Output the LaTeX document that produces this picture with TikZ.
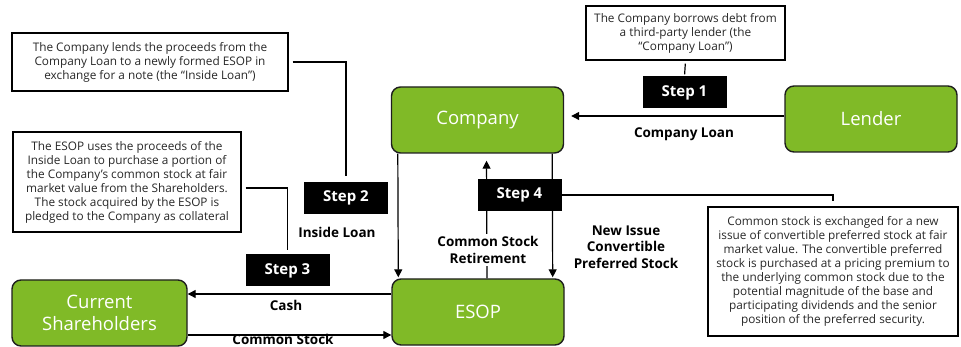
\documentclass[tikz,border=0pt]{standalone}
\usepackage{fontspec}
\setmainfont{Open Sans}
\usetikzlibrary{arrows.meta,backgrounds}
\definecolor{boxgreen}{RGB}{128,186,39}
\definecolor{notetext}{RGB}{40,40,40}
\definecolor{edge}{RGB}{30,30,30}

\begin{document}
\begin{tikzpicture}[x=1pt,y=-1pt,
  entity/.style={draw=edge,line width=1.4pt,fill=boxgreen,rounded corners=9pt,
    minimum width=172pt,minimum height=66pt,inner sep=0pt,text=white,
    font=\fontsize{18.5}{21.5}\selectfont,align=center},
  stepbox/.style={fill=black,text=white,font=\bfseries\fontsize{15}{17}\selectfont,
    minimum width=84pt,minimum height=32pt,inner sep=0pt},
  note/.style={draw=black,line width=1.3pt,fill=white,text=notetext,
    font=\fontsize{11.8}{14}\selectfont,align=center,inner sep=0pt},
  lbl/.style={font=\bfseries\fontsize{13.5}{16.5}\selectfont,align=center,text=black,inner sep=1pt},
  flow/.style={line width=1.2pt,draw=black,-{Triangle[length=8pt,width=8pt]}},
  lead/.style={line width=1.2pt,draw=black}]

\useasboundingbox (0,0) rectangle (961,347);

% parties
\node[entity] (company) at (477.5,120) {Company};
\node[entity] (esop) at (478,312) {ESOP};
\node[entity] (lender) at (871,119) {Lender};
\node[entity,minimum width=175pt] (share) at (99.5,313) {Current\\Shareholders};

% step tags
\node[stepbox] (step1) at (684.5,92.5) {Step 1};
\node[stepbox] (step2) at (346,198) {Step 2};
\node[stepbox] (step3) at (287.5,270.5) {Step 3};
\node[stepbox] (step4) at (519.5,195) {Step 4};

% explanatory notes
\node[note,minimum width=276pt,minimum height=58pt] (noteA) at (150,62)
  {The Company lends the proceeds from the\\Company Loan to a newly formed ESOP in\\exchange for a note (the “Inside Loan”)};
\node[note,minimum width=228pt,minimum height=100pt] (noteB) at (127,182)
  {The ESOP uses the proceeds of the\\Inside Loan to purchase a portion of\\the Company’s common stock at fair\\market value from the Shareholders.\\The stock acquired by the ESOP is\\pledged to the Company as collateral};
\node[note,minimum width=199pt,minimum height=54pt] (noteC) at (685.5,33)
  {The Company borrows debt from\\a third-party lender (the\\“Company Loan”)};
\node[note,minimum width=250pt,minimum height=129pt] (noteD) at (833,271.5)
  {Common stock is exchanged for a new\\issue of convertible preferred stock at fair\\market value. The convertible preferred\\stock is purchased at a pricing premium to\\the underlying common stock due to the\\potential magnitude of the base and\\participating dividends and the senior\\position of the preferred security.};

% flow labels
\node[lbl] (lloan) at (684,134) {Company Loan};
\node[lbl] (linside) at (337,232) {Inside Loan};
\node[lbl] (lcash) at (286,305) {Cash};
\node[lbl] (lcommon) at (283,339) {Common Stock};
\node[lbl,fill=white,inner sep=3pt] (lretire) at (488,250) {Common Stock\\Retirement};
\node[lbl] (lnew) at (626,247) {New Issue\\Convertible\\Preferred Stock};

\begin{scope}[on background layer]
  % money and stock flows
  \draw[flow,shorten >=7pt] ([yshift=3pt]lender.west) -- ([yshift=3pt]lender.west -| company.east);
  \draw[flow,shorten >=1pt] ([xshift=7pt]company.south west) -- ([xshift=7pt]esop.north west);
  \draw[flow,shorten >=1pt] ([xshift=-12pt]company.south east) -- ([xshift=-12pt]esop.north east);
  \draw[flow,shorten >=7pt] ([xshift=9pt]esop.north) -- ([xshift=9pt]company.south);
  \draw[flow] ([yshift=18pt]esop.west) -- ([yshift=18pt]esop.west -| share.east);
  \draw[flow] ([yshift=-22pt]share.east) -- ([yshift=-22pt]share.east -| esop.west);

  % leaders from notes to step tags
  \draw[lead,shorten <=3pt,shorten >=2pt] (noteC.south) -- (step1.north);
  \draw[lead,shorten <=4pt,shorten >=6pt] (noteA.east) -| (step2.north);
  \draw[lead,shorten <=4pt,shorten >=4pt] ([yshift=-6pt]noteB.east) -| (step3.north);
  \draw[lead,shorten >=5pt] (step4.east) -| (noteD.north);
\end{scope}
\end{tikzpicture}
\end{document}
